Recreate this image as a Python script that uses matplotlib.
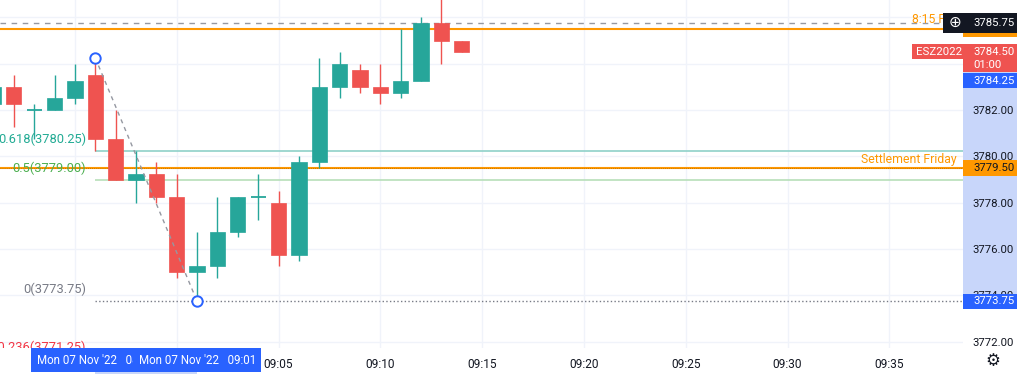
import matplotlib.pyplot as plt
import matplotlib.transforms as mtransforms
from matplotlib.patches import Rectangle

plt.rcParams['font.family'] = ['Roboto', 'DejaVu Sans']

# 1-minute ES bars, x = minutes after 09:00
minutes = list(range(-9, 15))
opens = [3782.25, 3783.00, 3782.00, 3782.00, 3782.50, 3783.50, 3780.75, 3779.00,
         3779.25, 3778.25, 3775.00, 3775.25, 3776.75, 3778.25, 3778.00, 3775.75,
         3779.75, 3783.00, 3783.75, 3783.00, 3782.75, 3783.25, 3785.75, 3785.00]
highs = [3783.25, 3783.50, 3782.25, 3783.50, 3784.00, 3784.25, 3782.00, 3780.25,
         3779.75, 3779.25, 3776.75, 3778.25, 3778.25, 3779.25, 3778.50, 3780.00,
         3784.25, 3784.50, 3784.00, 3784.00, 3785.50, 3786.00, 3787.00, 3785.00]
lows = [3782.00, 3781.25, 3780.75, 3782.00, 3782.25, 3780.25, 3779.00, 3778.00,
        3778.00, 3774.75, 3773.75, 3774.75, 3776.50, 3777.25, 3775.25, 3775.50,
        3779.50, 3782.50, 3782.75, 3782.25, 3782.50, 3783.25, 3784.00, 3784.50]
closes = [3783.00, 3782.25, 3782.00, 3782.50, 3783.25, 3780.75, 3779.00, 3779.25,
          3778.25, 3775.00, 3775.25, 3776.75, 3778.25, 3778.25, 3775.75, 3779.75,
          3783.00, 3784.00, 3783.00, 3782.75, 3783.25, 3785.75, 3785.00, 3784.50]

# drawings
fib_high = 3784.25
fib_low = 3773.75
fib_start = -4   # 08:56
fib_end = 1      # 09:01
fib_levels = [0.618, 0.5, 0, -0.236]
fib_colors = ['#22ab94', '#4caf50', '#787b86', '#f23645']
fib_line_colors = ['#8fd1c8', '#b7dfb9', '#787b86', '#f23645']

settlement = 3779.50
alert_price = 3785.50
cursor_price = 3785.75
last_price = 3784.50
symbol = 'ESZ2022'
countdown = '01:00'
price_ticks = [3772, 3774, 3776, 3778, 3780, 3782, 3784, 3786]
price_labels = ['3772.00', '3774.00', '3776.00', '3778.00', '3780.00', '3782.00', '', '']
time_ticks = [-5, 0, 5, 10, 15, 20, 25, 30, 35]
time_labels = ['', ''] + ['09:%02d' % m for m in time_ticks[2:]]

up, down = '#26a69a', '#ef5350'
orange, blue, dark = '#ff9800', '#2962ff', '#131722'

W, H = 1022, 374
fig = plt.figure(figsize=(W / 100, H / 100), dpi=100)
ax = fig.add_axes([0, 26 / H, 963 / W, 348 / H])
ymin, ymax = 3771.73, 3786.75
ax.set_xlim(-8.68, 38.62)
ax.set_ylim(ymin, ymax)
ppu = 348 / (ymax - ymin)   # pixels per point
for s in ax.spines.values():
    s.set_visible(False)

ax.set_yticks(price_ticks)
ax.set_yticklabels(price_labels)
ax.set_xticks(time_ticks)
ax.set_xticklabels(time_labels)
ax.tick_params(axis='y', left=False, right=True, labelleft=False, labelright=True,
               length=0, pad=7, labelsize=8.2, labelcolor=dark)
ax.tick_params(axis='x', length=0, pad=7, labelsize=8.6, labelcolor=dark)
ax.grid(color='#f0f3fa', lw=1)

# candles
for m, o, h, l, c in zip(minutes, opens, highs, lows, closes):
    col = up if c >= o else down
    ax.vlines(m, l, h, color=col, lw=1, zorder=3)
    if o == c:
        ax.hlines(o, m - 0.375, m + 0.375, color=col, lw=1.3, zorder=4)
    else:
        ax.add_patch(Rectangle((m - 0.375, min(o, c)), 0.75, abs(c - o),
                               fc=col, ec=col, lw=0.5, zorder=4))

xr = ax.get_xlim()[1]

# horizontal lines
ax.axhline(cursor_price, xmax=943 / 963, color='#9598a1', lw=1, ls=(0, (4, 4)), zorder=2)
ax.axhline(alert_price, xmax=943 / 963, color=orange, lw=1.5, zorder=2)
ax.axhline(settlement, color=orange, lw=1.5, zorder=2)
ax.axhline(settlement, color='#b86e00', lw=0.6, ls=(0, (1, 1.5)), zorder=2)
ax.annotate('Settlement Friday', (957 / 963, settlement), xycoords=('axes fraction', 'data'),
            xytext=(0, 2), textcoords='offset pixels', ha='right', va='bottom',
            fontsize=8.8, color=orange)
ax.annotate('8:15 PM', (912 / 963, alert_price), xycoords=('axes fraction', 'data'),
            xytext=(0, 3), textcoords='offset pixels', ha='left', va='bottom',
            fontsize=8.8, color=orange)

# fib retracement
for lev, tc, lc in zip(fib_levels, fib_colors, fib_line_colors):
    p = round((fib_low + lev * (fib_high - fib_low)) * 4) / 4
    ax.hlines(p, fib_start, xr, color=lc, lw=1.2 if lev else 1,
              ls=':' if lev == 0 else '-', zorder=2)
    ax.annotate('%g(%.2f)' % (lev, p), (fib_start, p), xytext=(-9, 5),
                textcoords='offset pixels', ha='right', va='bottom',
                fontsize=9.3, color=tc, annotation_clip=False, clip_on=True)

ax.plot([fib_start, fib_end], [fib_high, fib_low], color='#9598a1', lw=1,
        ls=(0, (3, 3)), zorder=5)
ax.plot([fib_start, fib_end], [fib_high, fib_low], 'o', ms=7.5, mfc='white',
        mec=blue, mew=1.4, zorder=6, clip_on=False)

# price scale labels
ty = mtransforms.blended_transform_factory(ax.transAxes, ax.transData)
tx = mtransforms.blended_transform_factory(ax.transData, ax.transAxes)
x_r = 1017 / 963
x_txt = 973 / 963


def box(x0, x1, price, top_px, bot_px, fc, z):
    ax.add_patch(Rectangle((x0, price + bot_px / ppu), x1 - x0, (top_px - bot_px) / ppu,
                           transform=ty, fc=fc, ec='none', clip_on=False, zorder=z))


def label(x, price, dy_px, s, col, z, ha='left', size=8.2):
    ax.text(x, price + dy_px / ppu, s, transform=ty, ha=ha, va='center',
            fontsize=size, color=col, zorder=z, clip_on=False)


box(1.0, x_r, fib_low, (fib_high - fib_low) * ppu, 0, '#c8d6fa', 1)

box(1.0, x_r, alert_price, 7.5, -8, orange, 8)
label(x_txt, alert_price, 0, '%.2f' % alert_price, dark, 8)
box(943 / 963, x_r, cursor_price, 10, -10, dark, 9)
label(x_txt, cursor_price, 0, '%.2f' % cursor_price, 'white', 10)
label(955 / 963, cursor_price, 0, '\u2295', 'white', 10, ha='center', size=11)

box(912 / 963, 1.0, last_price, 8.3, -6.7, down, 9)
label(916 / 963, last_price, 0, symbol, 'white', 10)
box(1.0, x_r, last_price, 8.3, -19.7, down, 9)
label(x_txt, last_price, 0, '%.2f' % last_price, 'white', 10)
label(x_txt, last_price, -12.7, countdown, 'white', 10)

box(1.0, x_r, fib_high, -15, -30.3, blue, 9)
label(x_txt, fib_high, -22.7, '%.2f' % fib_high, 'white', 10)
box(1.0, x_r, settlement, 7.7, -7.7, orange, 9)
label(x_txt, settlement, 0, '%.2f' % settlement, dark, 10)
box(1.0, x_r, fib_low, 7.5, -7.5, blue, 9)
label(x_txt, fib_low, 0, '%.2f' % fib_low, 'white', 10)

# time scale labels
ax.add_patch(Rectangle((fib_start, -26 / 348), fib_end - fib_start, 4 / 348, transform=tx,
                       fc='#c8d6fa', ec='none', clip_on=False, zorder=1))
for m, hhmm in [(fib_start, '08:56'), (fib_end, '09:01')]:
    ax.text(m, -12 / 348, "Mon 07 Nov '22   " + hhmm, transform=tx, ha='center',
            va='center', fontsize=8.3, color='white', zorder=10, clip_on=False,
            bbox=dict(boxstyle='square,pad=0.45', fc=blue, ec='none'))

fig.text(993 / W, 1 - 362 / H, '\u2699', ha='center', va='center', fontsize=12, color=dark)

fig.savefig('out.png', dpi=100)
